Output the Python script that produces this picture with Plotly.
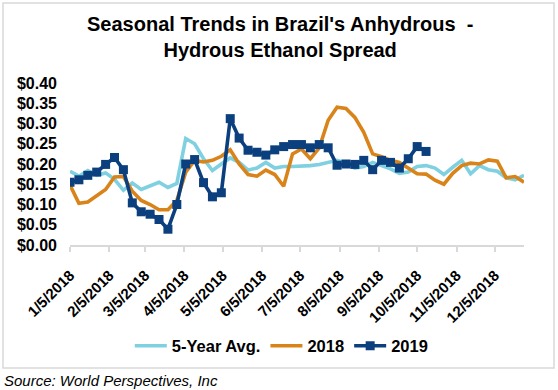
import plotly.graph_objects as go

dates = [
    "2018-01-05", "2018-01-12", "2018-01-19", "2018-01-26",
    "2018-02-02", "2018-02-09", "2018-02-16", "2018-02-23",
    "2018-03-02", "2018-03-09", "2018-03-16", "2018-03-23", "2018-03-30",
    "2018-04-06", "2018-04-13", "2018-04-20", "2018-04-27",
    "2018-05-04", "2018-05-11", "2018-05-18", "2018-05-25",
    "2018-06-01", "2018-06-08", "2018-06-15", "2018-06-22", "2018-06-29",
    "2018-07-06", "2018-07-13", "2018-07-20", "2018-07-27",
    "2018-08-03", "2018-08-10", "2018-08-17", "2018-08-24", "2018-08-31",
    "2018-09-07", "2018-09-14", "2018-09-21", "2018-09-28",
    "2018-10-05", "2018-10-12", "2018-10-19", "2018-10-26",
    "2018-11-02", "2018-11-09", "2018-11-16", "2018-11-23", "2018-11-30",
    "2018-12-07", "2018-12-14", "2018-12-21", "2018-12-28",
]

avg5 = [
    0.182, 0.170, 0.184, 0.172, 0.178, 0.162, 0.135, 0.153, 0.137, 0.145,
    0.155, 0.142, 0.152, 0.263, 0.250, 0.213, 0.184, 0.200, 0.215, 0.204,
    0.185, 0.190, 0.204, 0.190, 0.194, 0.194, 0.194, 0.196, 0.199, 0.204,
    0.209, 0.202, 0.190, 0.194, 0.204, 0.196, 0.188, 0.177, 0.180, 0.194,
    0.196, 0.190, 0.174, 0.192, 0.209, 0.176, 0.196, 0.186, 0.182, 0.166,
    0.161, 0.172,
]

y2018 = [
    0.148, 0.103, 0.106, 0.121, 0.137, 0.168, 0.169, 0.133, 0.110, 0.100,
    0.087, 0.087, 0.110, 0.180, 0.209, 0.205, 0.209, 0.219, 0.235, 0.200,
    0.174, 0.170, 0.185, 0.174, 0.145, 0.225, 0.237, 0.213, 0.240, 0.308,
    0.340, 0.337, 0.315, 0.278, 0.225, 0.218, 0.209, 0.204, 0.190, 0.176,
    0.175, 0.160, 0.150, 0.177, 0.196, 0.202, 0.200, 0.210, 0.207, 0.166,
    0.169, 0.155,
]

y2019 = [
    0.155, 0.161, 0.172, 0.180, 0.199, 0.216, 0.186, 0.104, 0.082, 0.076,
    0.063, 0.039, 0.100, 0.200, 0.211, 0.154, 0.119, 0.129, 0.312, 0.264,
    0.234, 0.229, 0.222, 0.235, 0.243, 0.248, 0.248, 0.240, 0.248, 0.240,
    0.197, 0.200, 0.199, 0.209, 0.186, 0.209, 0.204, 0.190, 0.213, 0.243,
    0.231,
]

C_AVG = "#7FD0E0"
C_2018 = "#D9841A"
C_2019 = "#0B3F7D"

fig = go.Figure()
fig.add_trace(go.Scatter(x=dates, y=avg5, name="5-Year Avg.", mode="lines",
                         line=dict(color=C_AVG, width=3.6)))
fig.add_trace(go.Scatter(x=dates, y=y2018, name="2018", mode="lines",
                         line=dict(color=C_2018, width=3.6)))
fig.add_trace(go.Scatter(x=dates[:len(y2019)], y=y2019, name="2019", mode="lines+markers",
                         line=dict(color=C_2019, width=3.6),
                         marker=dict(symbol="square", size=9, color=C_2019)))

L, R, T, B = 70, 34, 83, 145
W, H = 558, 390
pw = W - L - R
ph = H - T - B

def px(x):
    return (x - L) / pw

def py(y):
    return (H - B - y) / ph

FONT = "Liberation Sans, Arial, sans-serif"

fig.update_layout(
    width=W, height=H,
    margin=dict(l=L, r=R, t=T, b=B, autoexpand=False),
    paper_bgcolor="white", plot_bgcolor="white",
    font=dict(family=FONT, color="#000000"),
    showlegend=True,
    legend=dict(orientation="h", xref="container", yref="container",
                x=0.505, xanchor="center", y=1 - 346 / H, yanchor="middle",
                font=dict(size=16.5, weight="bold"), traceorder="normal",
                itemwidth=32, bgcolor="rgba(0,0,0,0)"),
    xaxis=dict(type="date", range=["2018-01-05", "2018-12-28"],
               tick0="2018-01-05", dtick="M1", tickformat="%-m/%-d/%Y",
               tickangle=-45, tickfont=dict(size=15, weight="bold"),
               showgrid=False, showline=True, linecolor="#D9D9D9", linewidth=1.5,
               ticks="outside", ticklen=5, tickcolor="#D9D9D9", tickwidth=1.5,
               zeroline=False, ticklabelstandoff=9, automargin=False),
    yaxis=dict(range=[0, 0.40], dtick=0.05, tickformat=".2f", tickprefix="$",
               tickfont=dict(size=16, weight="bold"), showgrid=False, showline=False,
               zeroline=False, ticklabelstandoff=12, automargin=False),
    shapes=[dict(type="rect", xref="paper", yref="paper",
                 x0=px(3), x1=px(554), y0=py(368), y1=py(3),
                 line=dict(color="#D9D9D9", width=1.5), layer="below")],
    annotations=[
        dict(text="<b>Seasonal Trends in Brazil's Anhydrous  -<br>Hydrous Ethanol Spread</b>",
             xref="paper", yref="paper", x=px(280), y=py(36.5),
             xanchor="center", yanchor="middle", showarrow=False,
             font=dict(size=20, color="#000000")),
        dict(text="<i>Source: World Perspectives, Inc</i>", xref="paper", yref="paper",
             x=px(2), y=py(380), xanchor="left", yanchor="middle",
             showarrow=False, font=dict(size=15, color="#000000")),
    ],
)

fig.write_html("out.html", config={"displayModeBar": False},
               post_script="document.body.style.margin='0px';")
